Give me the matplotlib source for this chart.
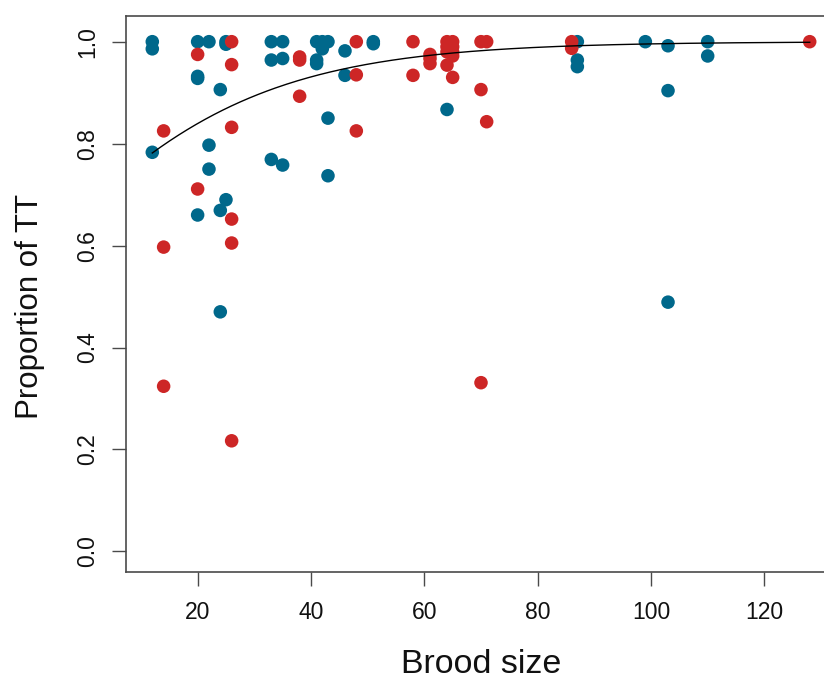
import numpy as np
import matplotlib
matplotlib.use("Agg")
import matplotlib.pyplot as plt

plt.rcParams['font.family'] = ['Liberation Sans', 'DejaVu Sans']

blue_x = [12, 12, 12, 20, 20, 20, 20, 22, 22, 22, 24, 24, 24, 25, 25, 25,
          33, 33, 33, 35, 35, 35, 41, 41, 41, 42, 42, 43, 43, 43, 46, 46,
          51, 51, 64, 87, 87, 87, 99, 103, 103, 103, 110, 110]
blue_y = [1.0, 0.986, 0.783, 1.0, 0.932, 0.928, 0.66, 1.0, 0.797, 0.75,
          0.906, 0.669, 0.47, 1.0, 0.995, 0.69, 1.0, 0.964, 0.769,
          1.0, 0.967, 0.758, 1.0, 0.964, 0.957, 1.0, 0.986, 1.0, 0.85, 0.737,
          0.982, 0.934, 1.0, 0.996, 0.867, 1.0, 0.964, 0.951, 1.0,
          0.992, 0.904, 0.489, 1.0, 0.972]

red_x = [14, 14, 14, 20, 20, 26, 26, 26, 26, 26, 26, 38, 38, 38, 48, 48, 48,
         58, 58, 61, 61, 61, 64, 64, 64, 64, 65, 65, 65, 65, 65,
         70, 70, 70, 71, 71, 86, 86, 128]
red_y = [0.825, 0.597, 0.324, 0.975, 0.711, 1.0, 0.955, 0.832, 0.652, 0.605,
         0.217, 0.97, 0.964, 0.893, 1.0, 0.935, 0.825, 1.0, 0.934,
         0.975, 0.967, 0.957, 1.0, 0.99, 0.98, 0.954, 1.0, 0.99, 0.98, 0.972,
         0.93, 1.0, 0.906, 0.331, 1.0, 0.843, 1.0, 0.987, 1.0]

# fitted curve, values
curve_x = [12, 33, 41.6, 64, 87, 128]
curve_y = [0.785, 0.910, 0.939, 0.976, 0.990, 0.999]

x_ticks = [20, 40, 60, 80, 100, 120]
y_ticks = [0.0, 0.2, 0.4, 0.6, 0.8, 1.0]
y_ticklabels = ["0.0", "0.2", "0.4", "0.6", "0.8", "1.0"]

BLUE = "#00688B"
RED = "#CD2626"

fig = plt.figure(figsize=(8.24, 6.79), dpi=100)
ax = fig.add_axes([126/824, (679-572)/679, (836-126)/824, (572-16)/679])

ax.scatter(blue_x, blue_y, s=95, color=BLUE, edgecolors='none', zorder=2)
ax.scatter(red_x, red_y, s=95, color=RED, edgecolors='none', zorder=3)

# logistic fit through the read curve points
cy = np.array(curve_y)
coef = np.polyfit(curve_x, np.log(cy / (1 - cy)), 1)
xx = np.linspace(min(curve_x), max(curve_x), 300)
yy = 1 / (1 + np.exp(-(coef[0] * xx + coef[1])))
ax.plot(xx, yy, color='black', lw=1.0, zorder=4)

ax.set_xlim(7.36, 132.64)
ax.set_ylim(-0.0404, 1.0504)
ax.set_xticks(x_ticks)
ax.set_yticks(y_ticks)
ax.set_yticklabels(y_ticklabels, rotation=90, va='center')

for sp in ax.spines.values():
    sp.set_color('#4a4a4a')
    sp.set_linewidth(1.2)
ax.tick_params(axis='both', direction='out', length=10, width=1.0,
               color='#4a4a4a', labelsize=16.5, labelcolor='#111111')
ax.tick_params(axis='x', pad=11)
ax.tick_params(axis='y', pad=9)

ax.set_xlabel("Brood size", fontsize=24.5, labelpad=18, color='#111111')
ax.set_ylabel("Proportion of TT", fontsize=22.5, color='#111111',
              va='center')
ax.yaxis.set_label_coords(-0.135, 0.478)

fig.savefig("out.png", dpi=100)
